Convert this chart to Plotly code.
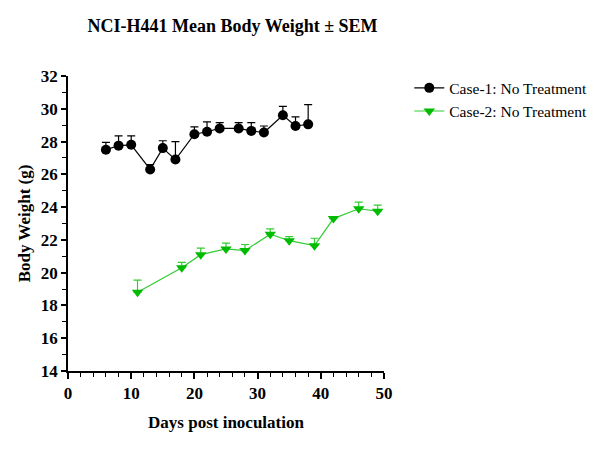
import plotly.graph_objects as go

title = "NCI-H441 Mean Body Weight ± SEM"
case1_name = "Case-1: No Treatment"
case1_days = [6, 8, 10, 13, 15, 17, 20, 22, 24, 27, 29, 31, 34, 36, 38]
case1_mean = [27.5, 27.75, 27.8, 26.3, 27.6, 26.9, 28.45, 28.6, 28.8, 28.8, 28.65, 28.55, 29.6, 28.95, 29.05]
case1_sem = [0.45, 0.6, 0.55, 0.3, 0.45, 1.1, 0.45, 0.6, 0.35, 0.35, 0.5, 0.4, 0.55, 0.55, 1.2]

case2_name = "Case-2: No Treatment"
case2_days = [11, 18, 21, 25, 28, 32, 35, 39, 42, 46, 49]
case2_mean = [18.8, 20.3, 21.1, 21.45, 21.35, 22.35, 21.95, 21.65, 23.3, 23.9, 23.75]
case2_sem = [0.75, 0.33, 0.4, 0.35, 0.37, 0.32, 0.25, 0.45, 0.1, 0.4, 0.37]

FONT = "Liberation Serif, Times New Roman, serif"

fig = go.Figure()
fig.add_trace(go.Scatter(
    x=case1_days, y=case1_mean, name=case1_name, mode="lines+markers",
    line=dict(color="#000000", width=1.2),
    marker=dict(symbol="circle", size=10, color="#000000"),
    error_y=dict(type="data", symmetric=False, array=case1_sem,
                 arrayminus=[0] * len(case1_sem), color="#000000",
                 thickness=1.2, width=4),
))
fig.add_trace(go.Scatter(
    x=case2_days, y=case2_mean, name=case2_name, mode="lines+markers",
    line=dict(color="#33cc33", width=1.2),
    marker=dict(symbol="triangle-down", size=10, color="#00bb00"),
    error_y=dict(type="data", symmetric=False, array=case2_sem,
                 arrayminus=[0] * len(case2_sem), color="#33cc33",
                 thickness=1.2, width=4),
))

fig.update_layout(
    width=604, height=463,
    margin=dict(l=68, r=218, t=76, b=92),
    paper_bgcolor="white", plot_bgcolor="white",
    font=dict(family=FONT, color="black"),
    title=dict(text="<b>" + title + "</b>", x=0.385, xanchor="center",
               y=0.945, yanchor="middle", font=dict(size=18, family=FONT)),
    legend=dict(x=1.08, y=1.016, xanchor="left", yanchor="top",
                font=dict(size=15.5, family=FONT), bgcolor="rgba(0,0,0,0)",
                itemwidth=30, tracegroupgap=4),
    showlegend=True,
)
fig.update_xaxes(
    range=[0, 50], tickvals=[0, 10, 20, 30, 40, 50],
    showline=True, linecolor="black", linewidth=1.5,
    ticks="outside", ticklen=6, tickwidth=1.5, tickcolor="black",
    minor=dict(dtick=2, ticks="outside", ticklen=4, tickwidth=1.2, tickcolor="black"),
    showgrid=False, zeroline=False,
    tickfont=dict(size=17, family=FONT, weight="bold"),
    title=dict(text="<b>Days post inoculation</b>", font=dict(size=17, family=FONT), standoff=14),
)
fig.update_yaxes(
    range=[14, 32], tickvals=[14, 16, 18, 20, 22, 24, 26, 28, 30, 32],
    showline=True, linecolor="black", linewidth=1.5,
    ticks="outside", ticklen=5, tickwidth=1.5, tickcolor="black",
    minor=dict(dtick=1, ticks="outside", ticklen=4, tickwidth=1.2, tickcolor="black"),
    showgrid=False, zeroline=False,
    tickfont=dict(size=17, family=FONT, weight="bold"),
    title=dict(text="<b>Body Weight (g)</b>", font=dict(size=17, family=FONT), standoff=6),
)

fig.write_html("out.html")
